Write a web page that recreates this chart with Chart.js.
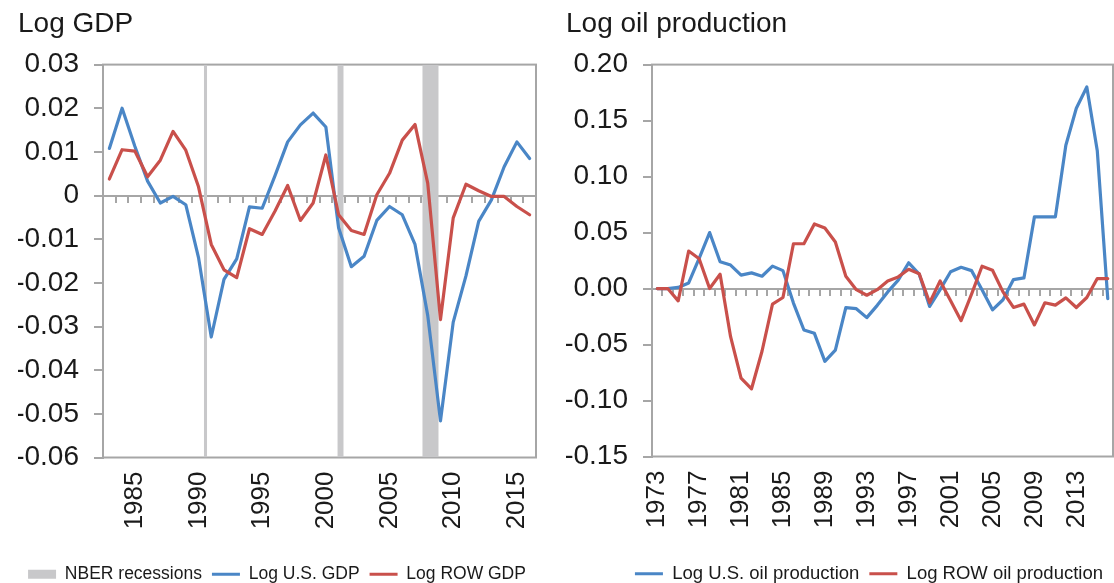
<!DOCTYPE html>
<html>
<head>
<meta charset="utf-8">
<script src="https://cdn.jsdelivr.net/npm/chart.js@4.4.1/dist/chart.umd.min.js"></script>
<style>
  html, body { margin: 0; padding: 0; background: #fff; overflow: hidden; }
  #page { position: relative; width: 1114px; height: 583px; overflow: hidden; }
  .box { position: absolute; top: 0; }
  #gdpBox { left: 0; width: 602px; height: 593px; }
  #oilBox { left: 548px; width: 566px; height: 593px; }
</style>
</head>
<body>
<div id="page">
  <div class="box" id="gdpBox"><canvas id="gdpChart"></canvas></div>
  <div class="box" id="oilBox"><canvas id="oilChart"></canvas></div>
</div>
<script>
/* ---------- data: left panel (GDP) ---------- */
const gdpYears = [1983, 1984, 1985, 1986, 1987, 1988, 1989, 1990, 1991, 1992,
  1993, 1994, 1995, 1996, 1997, 1998, 1999, 2000, 2001, 2002,
  2003, 2004, 2005, 2006, 2007, 2008, 2009, 2010, 2011, 2012,
  2013, 2014, 2015, 2016];
const gdpTickYears = [1985, 1990, 1995, 2000, 2005, 2010, 2015];

const usGdp = [0.0108, 0.0200, 0.0113, 0.0033, -0.0017, -0.0002, -0.0021, -0.0142, -0.0324, -0.0192,
  -0.0145, -0.0026, -0.0029, 0.0045, 0.0123, 0.0162, 0.0189, 0.0157, -0.0074, -0.0163,
  -0.0139, -0.0057, -0.0025, -0.0044, -0.0112, -0.0275, -0.0516, -0.0290, -0.0184, -0.0059,
  -0.0010, 0.0066, 0.0123, 0.0085];
const rowGdp = [0.0038, 0.0105, 0.0102, 0.0043, 0.0081, 0.0147, 0.0104, 0.0020, -0.0112, -0.0170,
  -0.0188, -0.0076, -0.0089, -0.0036, 0.0023, -0.0057, -0.0017, 0.0093, -0.0044, -0.0080,
  -0.0089, 0.0002, 0.0051, 0.0127, 0.0163, 0.0028, -0.0284, -0.0051, 0.0026, 0.0011,
  -0.0002, -0.0002, -0.0025, -0.0044];

// NBER recession spans, in years as placed on the time axis
const recessions = [[1990.42, 1990.68], [2000.90, 2001.40], [2007.57, 2008.86]];

/* ---------- data: right panel (oil) ---------- */
const oilYears = [1973, 1974, 1975, 1976, 1977, 1978, 1979, 1980, 1981, 1982,
  1983, 1984, 1985, 1986, 1987, 1988, 1989, 1990, 1991, 1992,
  1993, 1994, 1995, 1996, 1997, 1998, 1999, 2000, 2001, 2002,
  2003, 2004, 2005, 2006, 2007, 2008, 2009, 2010, 2011, 2012,
  2013, 2014, 2015, 2016];
const oilTickYears = [1973, 1977, 1981, 1985, 1989, 1993, 1997, 2001, 2005, 2009, 2013];

const usOil = [0, 0, 0.001, 0.005, 0.027, 0.050, 0.024, 0.021, 0.012, 0.014,
  0.011, 0.020, 0.016, -0.013, -0.037, -0.040, -0.065, -0.055, -0.017, -0.018,
  -0.026, -0.015, -0.003, 0.0075, 0.023, 0.013, -0.016, -0.001, 0.015, 0.019,
  0.016, -0.001, -0.019, -0.010, 0.008, 0.0095, 0.064, 0.064, 0.064, 0.128,
  0.161, 0.180, 0.123, -0.009];
const rowOil = [0, 0, -0.011, 0.0335, 0.0266, 0, 0.0128, -0.043, -0.080, -0.0895,
  -0.056, -0.014, -0.008, 0.040, 0.040, 0.0577, 0.054, 0.0415, 0.011, -0.001,
  -0.006, -0.001, 0.0068, 0.0104, 0.0172, 0.0133, -0.0127, 0.0068, -0.011, -0.0287,
  -0.005, 0.0199, 0.0163, -0.003, -0.0169, -0.0139, -0.0325, -0.0127, -0.0148, -0.0083,
  -0.0169, -0.008, 0.0089, 0.0089];

/* ---------- style ---------- */
const FONT = "'Liberation Sans', Arial, sans-serif";
const TEXT = "#1a1a1a";
const AXIS = "#a6a6a6";
const BLUE = "#4a86c6";
const RED = "#c9504b";
const BAND = "#c8c8ca";

Chart.defaults.font.family = FONT;
Chart.defaults.color = TEXT;

// grey frame round the plot area
const plotFrame = {
  id: "plotFrame",
  beforeDatasetsDraw(chart) {
    const { ctx, chartArea: a } = chart;
    ctx.save();
    ctx.strokeStyle = AXIS;
    ctx.lineWidth = 2;
    ctx.strokeRect(a.left, a.top, a.right - a.left, a.bottom - a.top);
    ctx.restore();
  }
};

function yearLabels(show) {
  return function (value) {
    const lab = this.getLabelForValue(value);
    return show.includes(Number(lab)) ? String(lab) : "";
  };
}

function lineSet(label, data, color, order) {
  return {
    label, data, order,
    borderColor: color, backgroundColor: color,
    borderWidth: 3.2, pointRadius: 0, tension: 0,
    borderJoinStyle: "round", borderCapStyle: "round",
    fill: false
  };
}

function legendItems(chart) {
  return chart.data.datasets
    .map((ds, i) => ({ ds, i }))
    .filter(o => o.ds.label)
    .map(o => ({
      text: o.ds.label,
      datasetIndex: o.i,
      fontColor: TEXT,
      pointStyle: o.ds.band ? "rect" : "line",
      fillStyle: o.ds.band ? BAND : o.ds.borderColor,
      strokeStyle: o.ds.band ? BAND : o.ds.borderColor,
      lineWidth: o.ds.band ? 0 : 3,
      hidden: false
    }));
}

function legendOpts(align, size) {
  return {
    position: "bottom",
    align,
    labels: {
      usePointStyle: true,
      pointStyleWidth: 28,
      boxHeight: 9,
      padding: 10,
      color: TEXT,
      font: { size },
      generateLabels: legendItems
    }
  };
}

function titleOpts(text) {
  return {
    display: true, text, align: "start", color: TEXT,
    font: { size: 28, weight: "normal" },
    padding: { top: 7, bottom: 24 }
  };
}

function xScales(years, tickYears) {
  return {
    x: {
      type: "category", position: "bottom", offset: true,
      grid: { display: false, drawTicks: false },
      border: { display: false },
      ticks: {
        autoSkip: false, maxRotation: 90, minRotation: 90, padding: 14,
        color: TEXT, font: { size: 26 },
        callback: yearLabels(tickYears)
      },
      afterFit: s => {
        s.height = 98;
        s.paddingLeft = 0;
        s.paddingRight = 0;
      }
    },
    // axis line with year ticks crossing at zero
    x0: {
      type: "category", position: { y: 0 }, offset: true,
      grid: { offset: true, drawOnChartArea: false, drawTicks: true, tickLength: 6, color: AXIS, lineWidth: 2 },
      border: { display: true, color: AXIS, width: 2 },
      ticks: { display: false, autoSkip: false }
    },
    xr: {
      type: "linear", display: false,
      min: years[0] - 0.5, max: years[years.length - 1] + 0.5
    }
  };
}

function yScale(min, max, step, fmt, width) {
  return {
    type: "linear", min, max,
    ticks: { stepSize: step, padding: 15, color: TEXT, font: { size: 28 }, callback: fmt },
    grid: { drawOnChartArea: false, drawTicks: true, tickLength: 9, color: AXIS, lineWidth: 2 },
    border: { display: true, color: AXIS, width: 2 },
    afterFit: s => { s.width = width; }
  };
}

/* ---------- left: Log GDP ---------- */
const bandSets = recessions.map((r, i) => ({
  label: i === 0 ? "NBER recessions" : "",
  band: true,
  data: [{ x: r[0], y: 0.03 }, { x: r[1], y: 0.03 }],
  xAxisID: "xr",
  fill: { value: -0.06 },
  backgroundColor: BAND,
  borderColor: "rgba(0,0,0,0)",
  borderWidth: 0,
  pointRadius: 0,
  order: 2
}));

new Chart(document.getElementById("gdpChart"), {
  type: "line",
  data: {
    labels: gdpYears,
    datasets: [
      bandSets[0],
      lineSet("Log U.S. GDP", usGdp, BLUE, 1),
      lineSet("Log ROW GDP", rowGdp, RED, 0),
      bandSets[1],
      bandSets[2]
    ]
  },
  options: {
    responsive: true, maintainAspectRatio: false, animation: false,
    layout: { padding: { left: 18, right: 66, top: 0, bottom: 0 } },
    plugins: {
      title: titleOpts("Log GDP"),
      legend: legendOpts("center", 17.5),
      tooltip: { enabled: false }
    },
    scales: Object.assign(xScales(gdpYears, gdpTickYears), {
      y: yScale(-0.06, 0.03, 0.01, v => {
        const r = Math.round(v * 100) / 100;
        return r === 0 ? "0" : r.toFixed(2);
      }, 85)
    })
  },
  plugins: [plotFrame]
});

/* ---------- right: Log oil production ---------- */
new Chart(document.getElementById("oilChart"), {
  type: "line",
  data: {
    labels: oilYears,
    datasets: [
      lineSet("Log U.S. oil production", usOil, BLUE, 1),
      lineSet("Log ROW oil production", rowOil, RED, 0)
    ]
  },
  options: {
    responsive: true, maintainAspectRatio: false, animation: false,
    layout: { padding: { left: 18, right: 1, top: 0, bottom: 0 } },
    plugins: {
      title: titleOpts("Log oil production"),
      legend: legendOpts("end", 18.5),
      tooltip: { enabled: false }
    },
    scales: Object.assign(xScales(oilYears, oilTickYears), {
      y: yScale(-0.15, 0.20, 0.05, v => {
        const r = Math.round(v * 100) / 100;
        return (r === 0 ? 0 : r).toFixed(2);
      }, 86)
    })
  },
  plugins: [plotFrame]
});
</script>
</body>
</html>
